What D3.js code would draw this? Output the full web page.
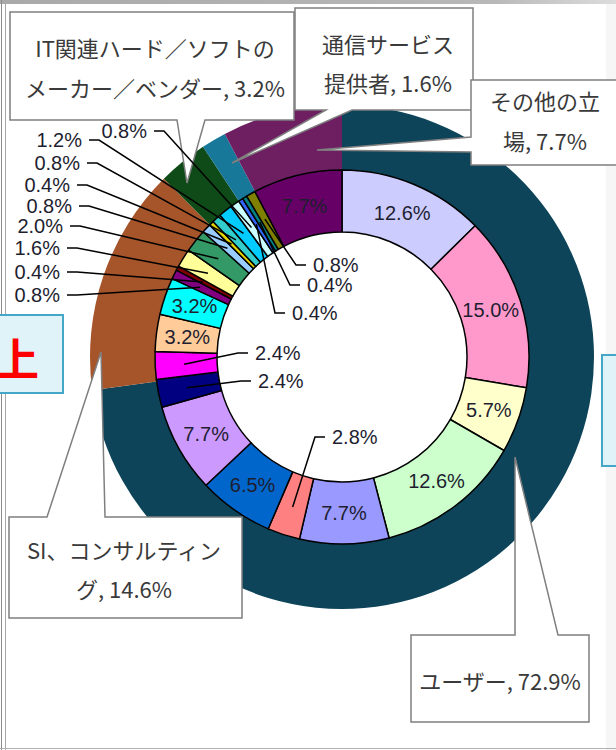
<!DOCTYPE html>
<html><head><meta charset="utf-8">
<script src="https://cdn.jsdelivr.net/npm/d3@7"></script>
<style>body{margin:0;background:#fff;overflow:hidden}svg{display:block}</style>
</head><body>
<svg id="chart" width="616" height="750"></svg>
<script>
// ---- data ----
const outerCategories = ["ユーザー", "SI、コンサルティング", "IT関連ハード／ソフトのメーカー／ベンダー", "通信サービス提供者", "その他の立場"];
const outerValues = [72.9, 14.6, 3.2, 1.6, 7.7];
const outerColors = ["#0d4459", "#a6542a", "#0f4b18", "#177899", "#6e1f62"];
const calloutLines = [
  ["ユーザー, 72.9%"],
  ["SI、コンサルティン", "グ, 14.6%"],
  ["IT関連ハード／ソフトの", "メーカー／ベンダー, 3.2%"],
  ["通信サービス", "提供者, 1.6%"],
  ["その他の立", "場, 7.7%"]
];
const innerValues = [12.6, 15.0, 5.7, 12.6, 7.7, 2.8, 6.5, 7.7, 2.4, 2.4, 3.2, 3.2,
  0.8, 0.4, 1.6, 2.0, 0.8, 0.4, 0.8, 1.2, 0.8, 0.4, 0.4, 0.8, 7.7];
const innerColors = ["#ccccff", "#ff99cc", "#ffffcc", "#ccffcc", "#9999ff", "#ff8080", "#0066cc", "#cc99ff",
  "#000080", "#ff00ff", "#ffcc99", "#00ffff", "#800080", "#800000", "#ffff99", "#339966", "#99ccff",
  "#e6d600", "#33cccc", "#00ccff", "#ccffff", "#3366ff", "#008080", "#808000", "#660066"];

// ---- layout ----
const cx = 342, cy = 357;
const rHole = 125, rMid = 187, rOut = 252;
const svg = d3.select("#chart");
const fmt = v => d3.format(".1f")(v) + "%";

// page frame
const g0 = svg.append("g");
const grad = svg.append("defs").append("linearGradient").attr("id", "topband");
grad.append("stop").attr("offset", "0").attr("stop-color", "#a9a9a9");
grad.append("stop").attr("offset", "0.8").attr("stop-color", "#b8b8b8");
grad.append("stop").attr("offset", "1").attr("stop-color", "#dcdcdc");
g0.append("rect").attr("x", 606).attr("y", 0).attr("width", 10).attr("height", 750).attr("fill", "#f6f6f6");
g0.append("rect").attr("x", 0).attr("y", 0).attr("width", 616).attr("height", 4).attr("fill", "url(#topband)");
g0.append("line").attr("x1", 1.5).attr("x2", 1.5).attr("y1", 0).attr("y2", 750).attr("stroke", "#8a8a8a");
g0.append("line").attr("x1", 5.5).attr("x2", 5.5).attr("y1", 3).attr("y2", 750).attr("stroke", "#a8a8a8");
g0.append("line").attr("x1", 0).attr("x2", 616).attr("y1", 748.5).attr("y2", 748.5).attr("stroke", "#b0b0b0");

// side boxes from the slide
g0.append("rect").attr("x", -10).attr("y", 315).attr("width", 73).attr("height", 78)
  .attr("fill", "#dff3f8").attr("stroke", "#45a7c6").attr("stroke-width", 2);
g0.append("text").attr("x", 17).attr("y", 357).attr("text-anchor", "middle").attr("dominant-baseline", "central")
  .attr("font-family", "Noto Sans CJK JP").attr("font-weight", 700).attr("font-size", 44).attr("fill", "#ff0000").text("上");
g0.append("rect").attr("x", 602).attr("y", 355).attr("width", 40).attr("height", 111)
  .attr("fill", "#dff3f8").attr("stroke", "#45a7c6").attr("stroke-width", 2);

const pie = d3.pie().sort(null).value(d => d);
const outerArcs = pie(outerValues);
const innerArcs = pie(innerValues);
const arcOuter = d3.arc().innerRadius(rMid).outerRadius(rOut);
const arcInner = d3.arc().innerRadius(rHole).outerRadius(rMid);

const g = svg.append("g").attr("transform", `translate(${cx},${cy})`);
g.selectAll("path.o").data(outerArcs).join("path").attr("class", "o")
  .attr("d", arcOuter).attr("fill", (d, i) => outerColors[i]);
g.selectAll("path.i").data(innerArcs).join("path").attr("class", "i")
  .attr("d", arcInner).attr("fill", (d, i) => innerColors[i])
  .attr("stroke", "#000").attr("stroke-width", 1.5).attr("stroke-linejoin", "round");

// ---- callouts ----
function calloutPath(b) {
  const {x, y, w, h, side, a, c, tip} = b;
  const p = d3.path();
  if (side === "bottom") {
    p.moveTo(x, y); p.lineTo(x + w, y); p.lineTo(x + w, y + h); p.lineTo(c, y + h);
    p.lineTo(tip[0], tip[1]); p.lineTo(a, y + h); p.lineTo(x, y + h); p.closePath();
  } else if (side === "top") {
    p.moveTo(x, y + h); p.lineTo(x, y); p.lineTo(a, y); p.lineTo(tip[0], tip[1]); p.lineTo(c, y);
    p.lineTo(x + w, y); p.lineTo(x + w, y + h); p.closePath();
  } else {
    p.moveTo(x, y); p.lineTo(x + w, y); p.lineTo(x + w, y + h); p.lineTo(x, y + h);
    p.lineTo(x, c); p.lineTo(tip[0], tip[1]); p.lineTo(x, a); p.closePath();
  }
  return p.toString();
}
const callouts = [
  {x: 411, y: 635, w: 178, h: 87, side: "top", a: 515, c: 558, tip: [515, 457], ly: [680], tx: 500},
  {x: 9, y: 517, w: 233, h: 101, side: "top", a: 47, c: 105, tip: [101, 352], ly: [549, 588], tx: 124},
  {x: 10, y: 12, w: 284, h: 108, side: "bottom", a: 177, c: 205, tip: [187, 183], ly: [47, 87], tx: 155},
  {x: 295, y: 8, w: 178, h: 102, side: "bottom", a: 326, c: 352, tip: [232, 163], ly: [43, 82], tx: 388},
  {x: 471, y: 80, w: 150, h: 85, side: "left", a: 137, c: 152, tip: [317, 150], ly: [100, 140], tx: 545}
];
const gc = svg.append("g");
callouts.forEach((b, i) => {
  gc.append("path").attr("d", calloutPath(b)).attr("fill", "#fff").attr("stroke", "#7f7f7f")
    .attr("stroke-width", 1.5).attr("stroke-linejoin", "miter");
  calloutLines[i].forEach((t, j) => {
    gc.append("text").attr("x", b.tx).attr("y", b.ly[j])
      .attr("text-anchor", "middle").attr("dominant-baseline", "central")
      .attr("font-family", "Noto Sans CJK JP").attr("font-size", 22).attr("fill", "#3a3a3a").text(t);
  });
});

// ---- inner labels ----
const rLab = 156, rLead = 158;
const insideIdx = [0, 1, 2, 3, 4, 6, 7, 10, 11, 24];
const gl = svg.append("g").attr("font-family", "Liberation Sans, Arial, sans-serif").attr("font-size", 20).attr("fill", "#1e1e30");
insideIdx.forEach(i => {
  const [x, y] = d3.arc().innerRadius(rLab).outerRadius(rLab).centroid(innerArcs[i]);
  gl.append("text").attr("x", cx + x).attr("y", cy + y).attr("text-anchor", "middle")
    .attr("dominant-baseline", "central").text(fmt(innerValues[i]));
});
// leader-labelled slices: [index, anchor, text x, text y]
const leaderLabels = [
  [12, "end", 60, 295], [13, "end", 60, 272], [14, "end", 60, 248], [15, "end", 63, 226],
  [16, "end", 72, 206], [17, "end", 70, 185], [18, "end", 80, 163], [19, "end", 82, 140],
  [20, "end", 147, 131],
  [21, "start", 292, 313], [22, "start", 307, 285], [23, "start", 313, 265],
  [8, "start", 258, 381], [9, "start", 255, 353], [5, "start", 332, 437]
];
const leadArc = d3.arc().innerRadius(rLead).outerRadius(rLead);
const gLead = svg.append("g").attr("fill", "none").attr("stroke", "#000").attr("stroke-width", 1.5);
leaderLabels.forEach(([i, anc, tx, ty]) => {
  const [px, py] = leadArc.centroid(innerArcs[i]);
  const sgn = anc === "end" ? 1 : -1;
  const x0 = tx + sgn * 7, x1 = tx + sgn * 17;
  gLead.append("polyline").attr("points", `${x0},${ty} ${x1},${ty} ${cx + px},${cy + py}`);
  gl.append("text").attr("x", tx).attr("y", ty).attr("text-anchor", anc)
    .attr("dominant-baseline", "central").text(fmt(innerValues[i]));
});
</script>
</body></html>
